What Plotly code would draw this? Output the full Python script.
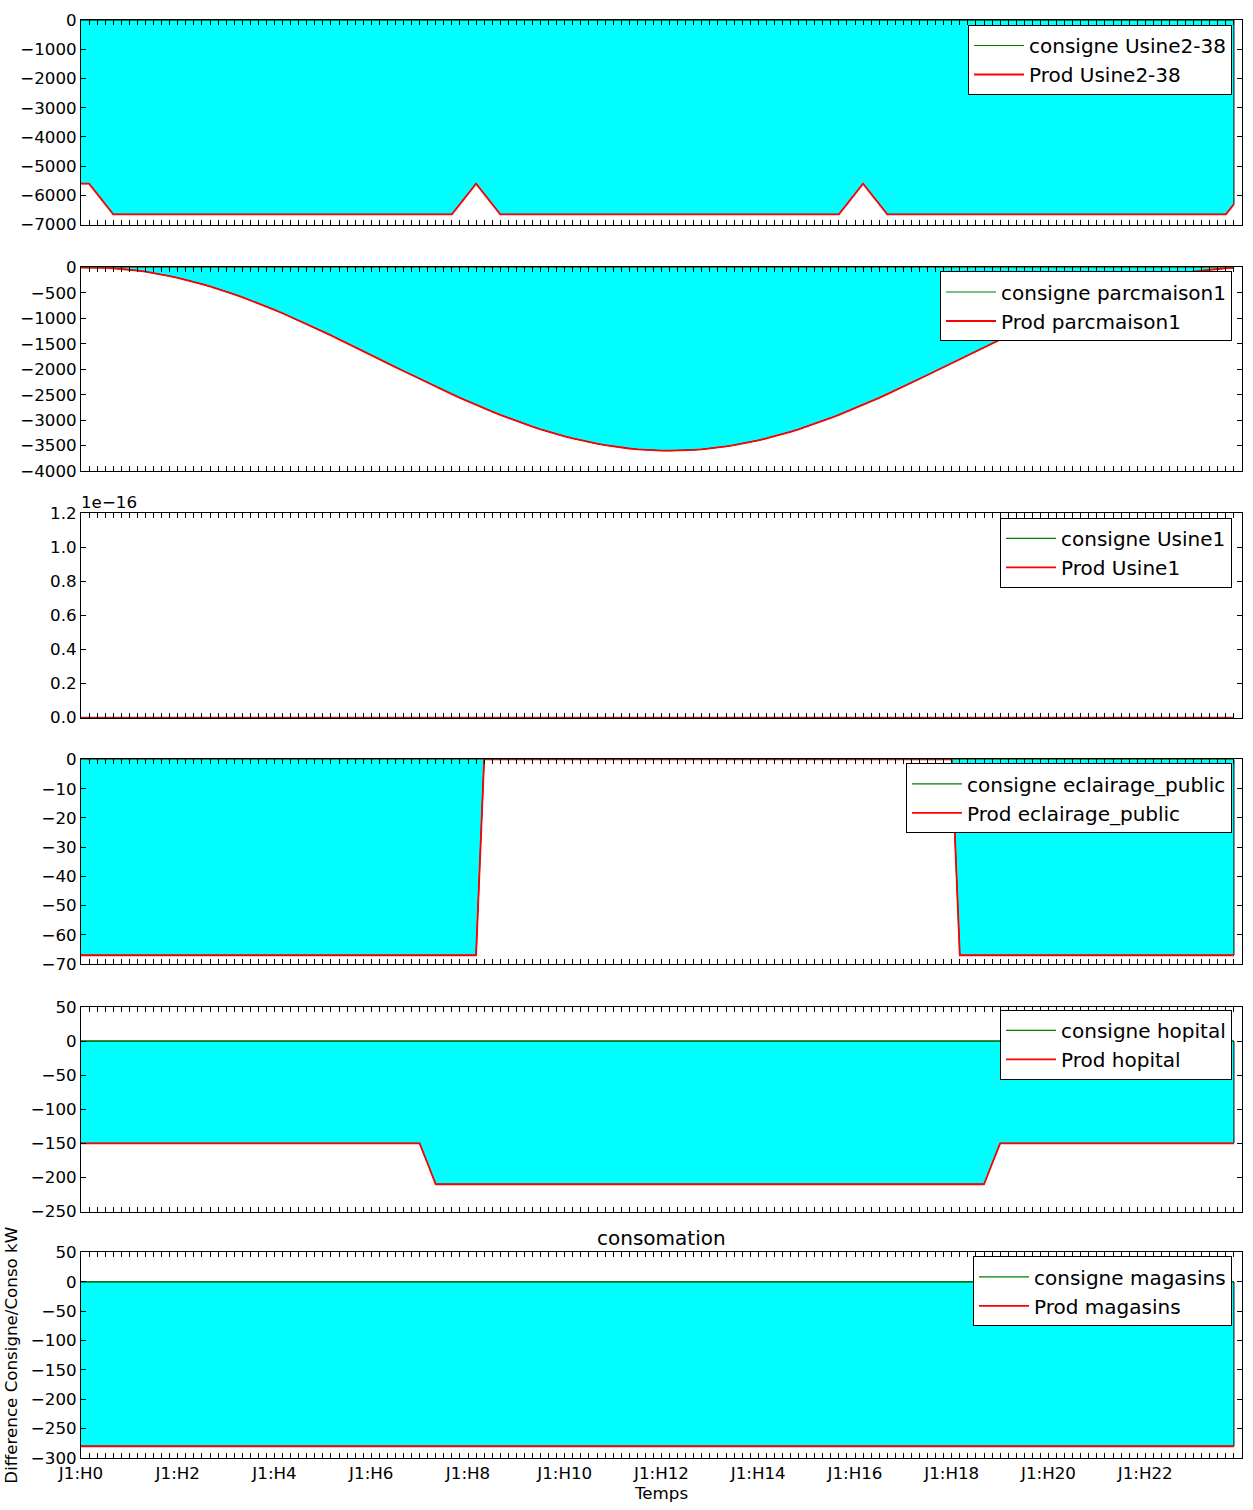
import plotly.graph_objects as go

# ---------------- data ----------------
time_index = [
    0, 1, 2, 3, 4, 5, 6, 7, 8, 9, 10, 11,
    12, 13, 14, 15, 16, 17, 18, 19, 20, 21, 22, 23,
    24, 25, 26, 27, 28, 29, 30, 31, 32, 33, 34, 35,
    36, 37, 38, 39, 40, 41, 42, 43, 44, 45, 46, 47,
    48, 49, 50, 51, 52, 53, 54, 55, 56, 57, 58, 59,
    60, 61, 62, 63, 64, 65, 66, 67, 68, 69, 70, 71,
    72, 73, 74, 75, 76, 77, 78, 79, 80, 81, 82, 83,
    84, 85, 86, 87, 88, 89, 90, 91, 92, 93, 94, 95,
    96, 97, 98, 99, 100, 101, 102, 103, 104, 105, 106, 107,
    108, 109, 110, 111, 112, 113, 114, 115, 116, 117, 118, 119,
    120, 121, 122, 123, 124, 125, 126, 127, 128, 129, 130, 131,
    132, 133, 134, 135, 136, 137, 138, 139, 140, 141, 142, 143,
]

hour_tick_positions = [0, 12, 24, 36, 48, 60, 72, 84, 96, 108, 120, 132]
hour_tick_labels = ["J1:H0", "J1:H2", "J1:H4", "J1:H6", "J1:H8", "J1:H10",
                    "J1:H12", "J1:H14", "J1:H16", "J1:H18", "J1:H20", "J1:H22"]

zero_series = [
    0, 0, 0, 0, 0, 0, 0, 0, 0, 0, 0, 0,
    0, 0, 0, 0, 0, 0, 0, 0, 0, 0, 0, 0,
    0, 0, 0, 0, 0, 0, 0, 0, 0, 0, 0, 0,
    0, 0, 0, 0, 0, 0, 0, 0, 0, 0, 0, 0,
    0, 0, 0, 0, 0, 0, 0, 0, 0, 0, 0, 0,
    0, 0, 0, 0, 0, 0, 0, 0, 0, 0, 0, 0,
    0, 0, 0, 0, 0, 0, 0, 0, 0, 0, 0, 0,
    0, 0, 0, 0, 0, 0, 0, 0, 0, 0, 0, 0,
    0, 0, 0, 0, 0, 0, 0, 0, 0, 0, 0, 0,
    0, 0, 0, 0, 0, 0, 0, 0, 0, 0, 0, 0,
    0, 0, 0, 0, 0, 0, 0, 0, 0, 0, 0, 0,
    0, 0, 0, 0, 0, 0, 0, 0, 0, 0, 0, 0,
]

consigne_usine2_38 = list(zero_series)
prod_usine2_38 = [
    -5600, -5600, -5950, -6300, -6650, -6650, -6650, -6650, -6650, -6650, -6650, -6650,
    -6650, -6650, -6650, -6650, -6650, -6650, -6650, -6650, -6650, -6650, -6650, -6650,
    -6650, -6650, -6650, -6650, -6650, -6650, -6650, -6650, -6650, -6650, -6650, -6650,
    -6650, -6650, -6650, -6650, -6650, -6650, -6650, -6650, -6650, -6650, -6650, -6300,
    -5950, -5600, -5950, -6300, -6650, -6650, -6650, -6650, -6650, -6650, -6650, -6650,
    -6650, -6650, -6650, -6650, -6650, -6650, -6650, -6650, -6650, -6650, -6650, -6650,
    -6650, -6650, -6650, -6650, -6650, -6650, -6650, -6650, -6650, -6650, -6650, -6650,
    -6650, -6650, -6650, -6650, -6650, -6650, -6650, -6650, -6650, -6650, -6650, -6300,
    -5950, -5600, -5950, -6300, -6650, -6650, -6650, -6650, -6650, -6650, -6650, -6650,
    -6650, -6650, -6650, -6650, -6650, -6650, -6650, -6650, -6650, -6650, -6650, -6650,
    -6650, -6650, -6650, -6650, -6650, -6650, -6650, -6650, -6650, -6650, -6650, -6650,
    -6650, -6650, -6650, -6650, -6650, -6650, -6650, -6650, -6650, -6650, -6650, -6300,
]

consigne_parcmaison1 = list(zero_series)
prod_parcmaison1 = [
    -2, 0, -2, -7, -15, -27, -43, -61, -83, -109, -137, -169,
    -203, -241, -282, -326, -372, -421, -473, -527, -584, -643, -704, -768,
    -833, -900, -969, -1039, -1111, -1184, -1259, -1334, -1410, -1487, -1565, -1643,
    -1722, -1800, -1879, -1957, -2035, -2113, -2190, -2266, -2341, -2416, -2489, -2561,
    -2632, -2700, -2767, -2832, -2896, -2957, -3016, -3073, -3127, -3179, -3228, -3275,
    -3318, -3359, -3397, -3431, -3463, -3491, -3517, -3539, -3557, -3573, -3585, -3593,
    -3598, -3600, -3598, -3593, -3585, -3573, -3557, -3539, -3517, -3491, -3463, -3431,
    -3397, -3359, -3318, -3275, -3228, -3179, -3127, -3073, -3016, -2957, -2896, -2832,
    -2767, -2700, -2632, -2561, -2489, -2416, -2341, -2266, -2190, -2113, -2035, -1957,
    -1879, -1800, -1722, -1643, -1565, -1487, -1410, -1334, -1259, -1184, -1111, -1039,
    -969, -900, -833, -768, -704, -643, -584, -527, -473, -421, -372, -326,
    -282, -241, -203, -169, -137, -109, -83, -61, -43, -27, -15, -7,
]

consigne_usine1 = list(zero_series)
prod_usine1 = list(zero_series)

consigne_eclairage = list(zero_series)
prod_eclairage = [
    -67, -67, -67, -67, -67, -67, -67, -67, -67, -67, -67, -67,
    -67, -67, -67, -67, -67, -67, -67, -67, -67, -67, -67, -67,
    -67, -67, -67, -67, -67, -67, -67, -67, -67, -67, -67, -67,
    -67, -67, -67, -67, -67, -67, -67, -67, -67, -67, -67, -67,
    -67, -67, 0, 0, 0, 0, 0, 0, 0, 0, 0, 0,
    0, 0, 0, 0, 0, 0, 0, 0, 0, 0, 0, 0,
    0, 0, 0, 0, 0, 0, 0, 0, 0, 0, 0, 0,
    0, 0, 0, 0, 0, 0, 0, 0, 0, 0, 0, 0,
    0, 0, 0, 0, 0, 0, 0, 0, 0, 0, 0, 0,
    0, -67, -67, -67, -67, -67, -67, -67, -67, -67, -67, -67,
    -67, -67, -67, -67, -67, -67, -67, -67, -67, -67, -67, -67,
    -67, -67, -67, -67, -67, -67, -67, -67, -67, -67, -67, -67,
]

consigne_hopital = list(zero_series)
prod_hopital = [
    -150, -150, -150, -150, -150, -150, -150, -150, -150, -150, -150, -150,
    -150, -150, -150, -150, -150, -150, -150, -150, -150, -150, -150, -150,
    -150, -150, -150, -150, -150, -150, -150, -150, -150, -150, -150, -150,
    -150, -150, -150, -150, -150, -150, -150, -180, -210, -210, -210, -210,
    -210, -210, -210, -210, -210, -210, -210, -210, -210, -210, -210, -210,
    -210, -210, -210, -210, -210, -210, -210, -210, -210, -210, -210, -210,
    -210, -210, -210, -210, -210, -210, -210, -210, -210, -210, -210, -210,
    -210, -210, -210, -210, -210, -210, -210, -210, -210, -210, -210, -210,
    -210, -210, -210, -210, -210, -210, -210, -210, -210, -210, -210, -210,
    -210, -210, -210, -210, -210, -180, -150, -150, -150, -150, -150, -150,
    -150, -150, -150, -150, -150, -150, -150, -150, -150, -150, -150, -150,
    -150, -150, -150, -150, -150, -150, -150, -150, -150, -150, -150, -150,
]

consigne_magasins = list(zero_series)
prod_magasins = [
    -280, -280, -280, -280, -280, -280, -280, -280, -280, -280, -280, -280,
    -280, -280, -280, -280, -280, -280, -280, -280, -280, -280, -280, -280,
    -280, -280, -280, -280, -280, -280, -280, -280, -280, -280, -280, -280,
    -280, -280, -280, -280, -280, -280, -280, -280, -280, -280, -280, -280,
    -280, -280, -280, -280, -280, -280, -280, -280, -280, -280, -280, -280,
    -280, -280, -280, -280, -280, -280, -280, -280, -280, -280, -280, -280,
    -280, -280, -280, -280, -280, -280, -280, -280, -280, -280, -280, -280,
    -280, -280, -280, -280, -280, -280, -280, -280, -280, -280, -280, -280,
    -280, -280, -280, -280, -280, -280, -280, -280, -280, -280, -280, -280,
    -280, -280, -280, -280, -280, -280, -280, -280, -280, -280, -280, -280,
    -280, -280, -280, -280, -280, -280, -280, -280, -280, -280, -280, -280,
    -280, -280, -280, -280, -280, -280, -280, -280, -280, -280, -280, -280,
]

site_names = ["Usine2-38", "parcmaison1", "Usine1", "eclairage_public", "hopital", "magasins"]
consigne_series = [consigne_usine2_38, consigne_parcmaison1, consigne_usine1,
                   consigne_eclairage, consigne_hopital, consigne_magasins]
prod_series = [prod_usine2_38, prod_parcmaison1, prod_usine1,
               prod_eclairage, prod_hopital, prod_magasins]

y_ticks = [
    [-7000, -6000, -5000, -4000, -3000, -2000, -1000, 0],
    [-4000, -3500, -3000, -2500, -2000, -1500, -1000, -500, 0],
    [0.0, 0.2e-16, 0.4e-16, 0.6e-16, 0.8e-16, 1.0e-16, 1.2e-16],
    [-70, -60, -50, -40, -30, -20, -10, 0],
    [-250, -200, -150, -100, -50, 0, 50],
    [-300, -250, -200, -150, -100, -50, 0, 50],
]
y3_tick_labels = ["0.0", "0.2", "0.4", "0.6", "0.8", "1.0", "1.2"]

for s in consigne_series + prod_series:
    assert len(s) == len(time_index)

# ---------------- layout geometry ----------------
FIG_W, FIG_H = 1253, 1510
ML, MR, MT, MB = 81, 10, 17, 52
PW = FIG_W - ML - MR
PH = FIG_H - MT - MB


def fy(py):
    return (FIG_H - MB - py) / PH


def fx(px):
    return (px - ML) / PW


panel_px = [(17, 222), (265, 469), (511, 716), (758, 963), (1006, 1211), (1252, 1458)]
legend_top_px = [22, 269, 516, 762, 1009, 1256]

FONT = "DejaVu Sans"
TICK_SIZE = 16.7
BIG_SIZE = 20

fig = go.Figure()

x_ticktext = []
for i in time_index:
    if i in hour_tick_positions:
        x_ticktext.append(hour_tick_labels[hour_tick_positions.index(i)])
    else:
        x_ticktext.append("")

for k in range(6):
    n = k + 1
    xa = "x" if n == 1 else f"x{n}"
    ya = "y" if n == 1 else f"y{n}"
    lg = "legend" if n == 1 else f"legend{n}"
    cons = consigne_series[k]
    prod = prod_series[k]
    # filled area between consigne and prod (closed polygon, like fill_between)
    fig.add_trace(go.Scatter(
        x=time_index + time_index[::-1],
        y=prod + cons[::-1],
        fill="toself", fillcolor="#00FFFF",
        line=dict(color="black", width=1),
        mode="lines", showlegend=False, hoverinfo="skip",
        xaxis=xa, yaxis=ya,
    ))
    fig.add_trace(go.Scatter(
        x=time_index, y=cons, mode="lines",
        line=dict(color="#008000", width=1.2),
        name=f"consigne {site_names[k]}",
        xaxis=xa, yaxis=ya, legend=lg,
    ))
    fig.add_trace(go.Scatter(
        x=time_index, y=prod, mode="lines",
        line=dict(color="#FF0000", width=1.8),
        name=f"Prod {site_names[k]}",
        xaxis=xa, yaxis=ya, legend=lg,
    ))

    top, bot = panel_px[k]
    xkey = "xaxis" if n == 1 else f"xaxis{n}"
    ykey = "yaxis" if n == 1 else f"yaxis{n}"

    xaxis_cfg = dict(
        domain=[0, 1], anchor=ya, range=[0, 144],
        tickmode="array", tickvals=time_index, ticktext=x_ticktext,
        ticks="inside", ticklen=5, tickwidth=1, tickcolor="black",
        showline=True, linecolor="black", linewidth=1, mirror="ticks",
        showgrid=False, zeroline=False,
        showticklabels=(n == 6),
        tickfont=dict(family=FONT, size=TICK_SIZE, color="black"),
    )
    if n != 1:
        xaxis_cfg["matches"] = "x"
    if n == 6:
        xaxis_cfg["title"] = dict(text="Temps", font=dict(family=FONT, size=TICK_SIZE, color="black"),
                                  standoff=2)
    fig.layout[xkey] = xaxis_cfg

    yt = y_ticks[k]
    if n == 3:
        ytext = y3_tick_labels
    else:
        ytext = [str(v).replace("-", "\u2212") for v in yt]
    yaxis_cfg = dict(
        domain=[fy(bot), fy(top)], anchor=xa, range=[yt[0], yt[-1]],
        tickmode="array", tickvals=yt, ticktext=ytext,
        ticks="inside", ticklen=5, tickwidth=1, tickcolor="black",
        showline=True, linecolor="black", linewidth=1, mirror="ticks",
        showgrid=False, zeroline=False,
        tickfont=dict(family=FONT, size=TICK_SIZE, color="black"),
    )
    if n == 6:
        yaxis_cfg["title"] = dict(text="Difference Consigne/Conso kW",
                                  font=dict(family=FONT, size=TICK_SIZE, color="black"),
                                  standoff=8)
    fig.layout[ykey] = yaxis_cfg

    fig.layout[lg] = dict(
        x=fx(1233), xanchor="right", y=fy(legend_top_px[k]), yanchor="top",
        bgcolor="white", bordercolor="black", borderwidth=1,
        font=dict(family=FONT, size=BIG_SIZE, color="black"),
        tracegroupgap=0, itemwidth=50,
    )

fig.add_annotation(
    text="consomation", xref="paper", yref="paper",
    x=0.5, y=fy(1252), xanchor="center", yanchor="bottom", yshift=0,
    showarrow=False, font=dict(family=FONT, size=BIG_SIZE, color="black"),
)
fig.add_annotation(
    text="1e\u221216", xref="paper", yref="paper",
    x=0, y=fy(511), xanchor="left", yanchor="bottom", yshift=-1, xshift=-2,
    showarrow=False, font=dict(family=FONT, size=TICK_SIZE, color="black"),
)

fig.update_layout(
    width=FIG_W, height=FIG_H,
    margin=dict(l=ML, r=MR, t=MT, b=MB, pad=0),
    paper_bgcolor="white", plot_bgcolor="white",
    font=dict(family=FONT, size=TICK_SIZE, color="black"),
    showlegend=True,
)

fig.write_html("out.html")
